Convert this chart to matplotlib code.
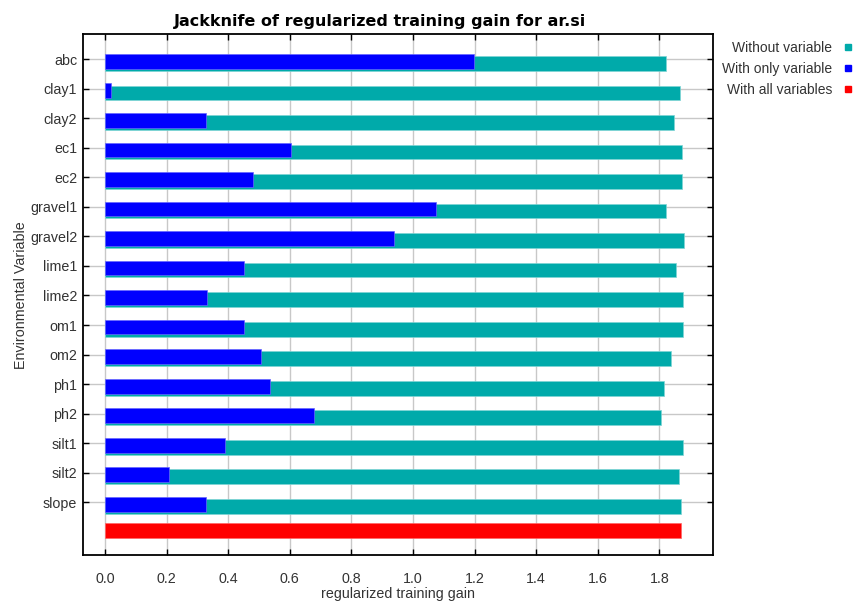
import numpy as np
import matplotlib
matplotlib.use("Agg")
import matplotlib.pyplot as plt
from matplotlib.lines import Line2D

plt.rcParams['font.family'] = ['Liberation Sans', 'DejaVu Sans']

# Data
variables = ['abc', 'clay1', 'clay2', 'ec1', 'ec2', 'gravel1', 'gravel2', 'lime1',
             'lime2', 'om1', 'om2', 'ph1', 'ph2', 'silt1', 'silt2', 'slope']
without_var = [1.823, 1.866, 1.847, 1.873, 1.873, 1.823, 1.879, 1.854,
               1.878, 1.878, 1.838, 1.814, 1.806, 1.878, 1.863, 1.870]
with_only = [1.198, 0.019, 0.327, 0.603, 0.479, 1.074, 0.939, 0.452,
             0.331, 0.452, 0.508, 0.535, 0.679, 0.391, 0.208, 0.327]
with_all = 1.870
x_ticks = [0.0, 0.2, 0.4, 0.6, 0.8, 1.0, 1.2, 1.4, 1.6, 1.8]

teal = '#00aaaa'
blue = '#0000ff'
red = '#ff0000'

fig = plt.figure(figsize=(8.56, 6.01), dpi=100)
ax = fig.add_axes([0.0966, 0.0765, 0.7367, 0.8665])

pos = np.arange(len(variables))
ax.barh(pos + 0.14, without_var, height=0.5, color=teal, edgecolor='#7fd4d4', linewidth=0.5, zorder=2)
ax.barh(pos + 0.07, with_only, height=0.5, color=blue, edgecolor='#6666ff', linewidth=0.5, zorder=3)
ax.barh([len(variables) - 0.05], [with_all], height=0.5, color=red, edgecolor='#ff6666', linewidth=0.5, zorder=3)

ax.set_xlim(-0.0724, 1.975)
ax.set_ylim(16.79, -0.847)

ax.set_xticks(x_ticks)
ax.set_xticklabels([f'{t:.1f}' for t in x_ticks])
ax.set_yticks(pos)
ax.set_yticklabels(variables)

ax.grid(True, color='#c8c8c8', linewidth=1.0, zorder=0)
ax.set_axisbelow(True)

ax.tick_params(axis='both', direction='in', length=4, width=1, colors='black',
               labelsize=10.3, labelcolor='#333333', top=True, right=True)
ax.tick_params(axis='x', pad=12)
ax.tick_params(axis='y', pad=4)
for s in ax.spines.values():
    s.set_linewidth(1.3)

fig.text(0.444, 0.965, 'Jackknife of regularized training gain for ar.si', fontsize=11.5,
         fontweight='bold', family='DejaVu Sans', ha='center', va='center')
ax.set_xlabel('regularized training gain', fontsize=10.3, color='#333333', labelpad=1)
ax.set_ylabel('Environmental Variable', fontsize=10.3, color='#333333', labelpad=1)

handles = [Line2D([], [], marker='s', linestyle='none', color=c, markersize=4.5)
           for c in (teal, blue, red)]
fig.legend(handles, ['Without variable', 'With only variable', 'With all variables'],
           loc='upper right', bbox_to_anchor=(1.01, 0.953), markerfirst=False,
           frameon=False, fontsize=10, labelspacing=0.5, handlelength=0.6,
           handletextpad=0.85, labelcolor='#333333')

fig.savefig('out.png', dpi=100)
